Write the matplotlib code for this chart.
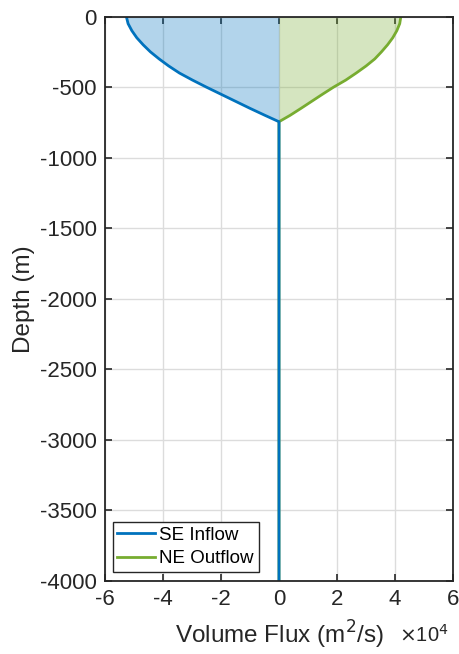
import numpy as np
import matplotlib
matplotlib.use("Agg")
import matplotlib.pyplot as plt

plt.rcParams["font.family"] = ["Liberation Sans", "DejaVu Sans"]

# Depth profile (m) and volume flux (x1e4 m^2/s) for the two sections
depth_m = [0, -50, -100, -150, -200, -250, -300, -350, -400, -450,
           -500, -550, -600, -650, -700, -745, -4000]
se_inflow = [-5.26, -5.20, -5.07, -4.90, -4.68, -4.43, -4.13, -3.80, -3.43, -2.98,
             -2.50, -2.00, -1.50, -1.00, -0.48, 0.0, 0.0]
ne_outflow = [4.20, 4.16, 4.06, 3.92, 3.74, 3.53, 3.30, 3.00, 2.66, 2.30,
              1.88, 1.50, 1.13, 0.76, 0.38, 0.0, 0.0]

x_ticks = [-6, -4, -2, 0, 2, 4, 6]
y_ticks = [0, -500, -1000, -1500, -2000, -2500, -3000, -3500, -4000]

BLUE = "#0072BD"
GREEN = "#77AC30"

fig = plt.figure(figsize=(4.6, 6.54), dpi=100)
ax = fig.add_axes([0.228, 0.1116, 0.757, 0.863])

ax.fill_betweenx(depth_m, 0, se_inflow, color=BLUE, alpha=0.3, linewidth=0)
ax.fill_betweenx(depth_m, 0, ne_outflow, color=GREEN, alpha=0.3, linewidth=0)
ax.plot(ne_outflow, depth_m, color=GREEN, linewidth=2.0, label="NE Outflow")
ax.plot(se_inflow, depth_m, color=BLUE, linewidth=2.0, label="SE Inflow")

ax.set_xlim(-6, 6)
ax.set_ylim(-4000, 0)
ax.set_xticks(x_ticks)
ax.set_yticks(y_ticks)
ax.set_xticklabels([str(t) for t in x_ticks])
ax.set_yticklabels([str(t) for t in y_ticks])
ax.tick_params(direction="in", length=5, width=1.2, top=True, right=True,
               labelsize=16, colors="#262626", pad=6)
for s in ax.spines.values():
    s.set_linewidth(1.3)
    s.set_color("#262626")
ax.grid(True, color="#dcdcdc", linewidth=1.0)
ax.set_axisbelow(True)

ax.set_xlabel("Volume Flux (m$^2$/s)", fontsize=17.5, color="#262626", labelpad=6)
ax.set_ylabel("Depth (m)", fontsize=17.5, color="#262626", labelpad=3)
fig.text(0.975, 0.012, r"$\times$10$^4$", fontsize=14.5, color="#262626",
         ha="right", va="bottom")

handles, labels = ax.get_legend_handles_labels()
leg = ax.legend(handles[::-1], labels[::-1], loc="lower left", fontsize=13.5,
                bbox_to_anchor=(0.022, 0.016), borderaxespad=0, fancybox=False,
                edgecolor="#262626", framealpha=1, handlelength=2.0,
                handletextpad=0.25, borderpad=0.25, labelspacing=0.35)
leg.get_frame().set_linewidth(1.0)

fig.savefig("out.png", dpi=100)
